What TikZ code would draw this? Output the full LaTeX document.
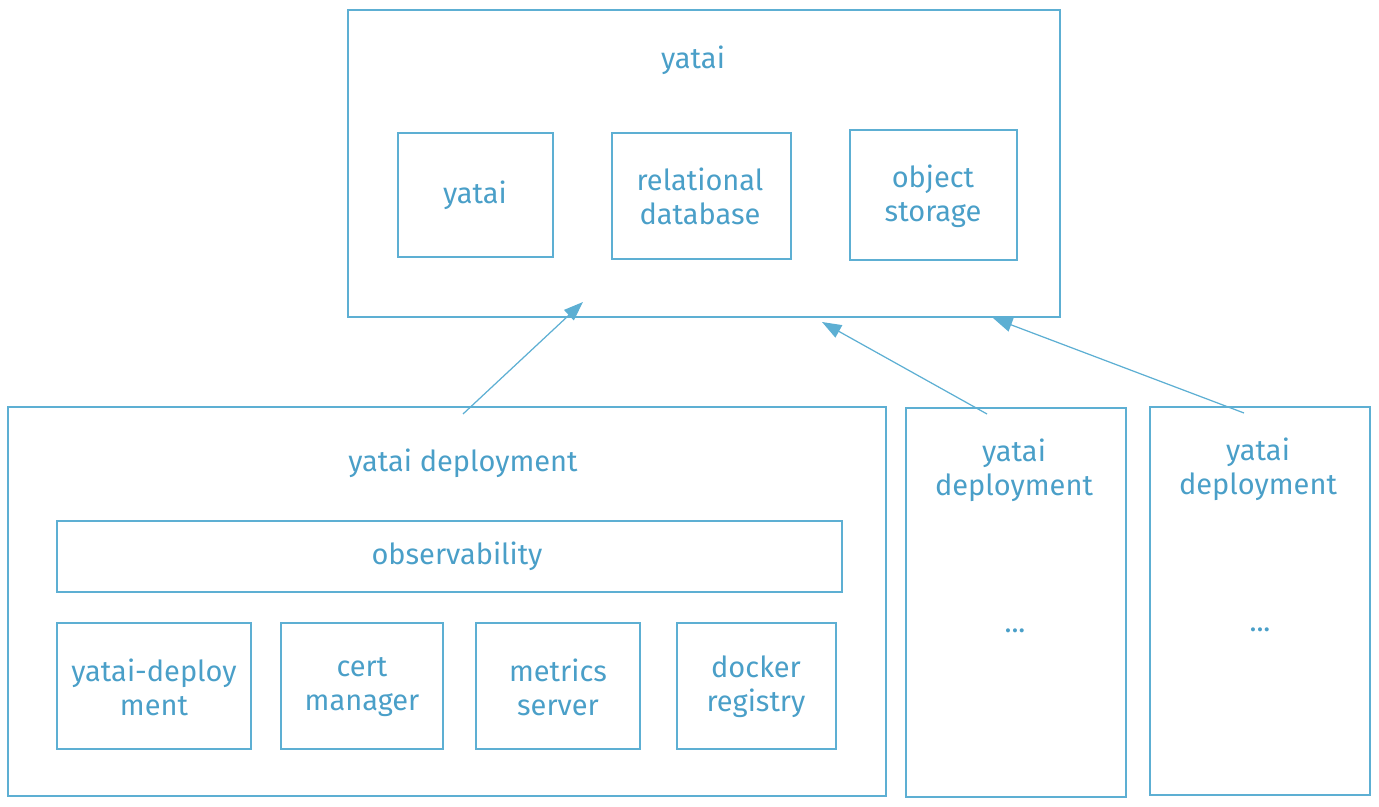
\documentclass[tikz,border=0pt]{standalone}
\usepackage{fontspec}
\setmainfont{Fira Sans}
\usetikzlibrary{positioning, fit, arrows.meta}
\definecolor{sketchline}{HTML}{5DAFD3}
\definecolor{sketchtext}{HTML}{4A9FC8}

\begin{document}
\begin{tikzpicture}[x=0.02cm, y=-0.02cm,
    box/.style={draw=sketchline, line width=0.6pt, inner sep=0pt},
    title/.style={text=sketchtext, font=\fontsize{16.5}{19.5}\selectfont, align=center, inner sep=0pt},
    link/.style={draw=sketchline, line width=0.7pt, -{Triangle[length=11pt, width=8pt]}}]
    \useasboundingbox (0,0) rectangle (1379,807);

    % central yatai
    \node[box, fit={(348,10) (1060,317)}] (yatai) {};
    \node[title] (yataititle) at (693,60) {yatai};
    \node[box, fit={(398,133) (553,257)}] (yataisvc) {};
    \node[title] (yataisvctext) at (475,195) {yatai};
    \node[box, fit={(612,133) (791,259)}] (db) {};
    \node[title] (dbtext) at (700,196) {relational\\database};
    \node[box, fit={(850,130) (1017,260)}] (store) {};
    \node[title] (storetext) at (933,196) {object\\storage};

    % first deployment
    \node[box, fit={(8,407) (886,796)}] (dep1) {};
    \node[title] (dep1title) at (463,463) {yatai deployment};
    \node[box, fit={(57,521) (842,592)}] (obs) {};
    \node[title] (obstext) at (457,556) {observability};
    \node[box, fit={(57,623) (251,749)}] (ydep) {};
    \node[title] (ydeptext) at (154,687) {yatai-deploy\\ment};
    \node[box, fit={(281,623) (443,749)}] (cert) {};
    \node[title] (certtext) at (362,687) {cert\\manager};
    \node[box, fit={(476,623) (640,749)}] (metrics) {};
    \node[title] (metricstext) at (558,687) {metrics\\server};
    \node[box, fit={(677,623) (836,749)}] (registry) {};
    \node[title] (registrytext) at (756,687) {docker\\registry};

    % other deployments
    \node[box, fit={(906,408) (1126,797)}] (dep2) {};
    \node[title] (dep2title) at (1014,470) {yatai\\deployment};
    \node[title] (dep2more) at (1015,631) {...};
    \node[box, fit={(1150,407) (1370,795)}] (dep3) {};
    \node[title] (dep3title) at (1258,469) {yatai\\deployment};
    \node[title] (dep3more) at (1260,630) {...};

    % connector ends
    \coordinate (t1) at (463,414);
    \coordinate (h1) at (583,302);
    \coordinate (t2) at (987,414);
    \coordinate (h2) at (822,322);
    \coordinate (t3) at (1244,413);
    \coordinate (h3) at (993,318);

    \draw[link] (t1) -- (h1);
    \draw[link] (t2) -- (h2);
    \draw[link] (t3) -- (h3);
\end{tikzpicture}
\end{document}
